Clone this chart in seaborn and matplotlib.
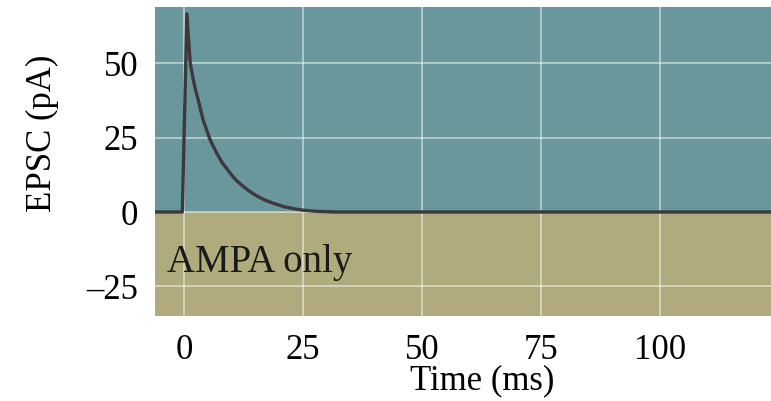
import seaborn as sns
import matplotlib.pyplot as plt
import pandas as pd

# EPSC trace (time in ms, current in pA)
time_ms = [-7, -0.35, 0.6, 1.3, 2, 2.5, 3, 4, 5.3, 6, 7, 8, 9, 10, 11, 12.5,
           14, 15.5, 17, 19, 21, 23, 25, 28, 32, 125]
epsc_pa = [0, 0, 66.5, 50, 44, 40.5, 37.5, 31, 25, 22.5, 19.4, 16.6, 14.5, 12.4, 10.6, 8.5,
           6.7, 5.2, 4.0, 2.8, 1.8, 1.1, 0.6, 0.2, 0, 0]

x_ticks = [0, 25, 50, 75, 100]
y_ticks = [-25, 0, 25, 50]
y_tick_labels = ['\u201325', '0', '25', '50']

df = pd.DataFrame({'Time (ms)': time_ms, 'EPSC (pA)': epsc_pa})

sns.set_theme(style='darkgrid')
plt.rcParams['font.family'] = ['Liberation Serif', 'DejaVu Serif']

f = plt.figure(figsize=(7.71, 4.01), dpi=100)
ax = f.add_axes([0.201, 0.212, 0.799, 0.7705])
ax.set_facecolor('#6a979b')
# lower (negative) region shaded olive
ax.axhspan(-40, 0, color='#afab7c', zorder=0, lw=0)

sns.lineplot(data=df, x='Time (ms)', y='EPSC (pA)', ax=ax, color='#3c393c',
             linewidth=2.4, zorder=3)

ax.set_xlim(-6.1, 123.3)
ax.set_ylim(-34.9, 68.8)
ax.set_xticks(x_ticks)
ax.set_yticks(y_ticks)
ax.set_yticklabels(y_tick_labels)
ax.grid(True, color='white', alpha=0.5, linewidth=1.3)
ax.tick_params(axis='x', length=0, labelsize=25, colors='black', pad=13)
ax.tick_params(axis='y', length=0, labelsize=25, colors='black', pad=12)
ax.set_xlabel('Time (ms)', fontsize=25, color='black', va='center')
ax.set_ylabel('EPSC (pA)', fontsize=25, color='black', va='center')
ax.xaxis.set_label_coords(0.531, -0.21)
ax.yaxis.set_label_coords(-0.183, 0.59)
for s in ax.spines.values():
    s.set_visible(False)

ax.text(-3.5, -16.8, 'AMPA only', fontsize=28, color='#1a1a1a', va='center')

f.savefig('out.png', dpi=100)
